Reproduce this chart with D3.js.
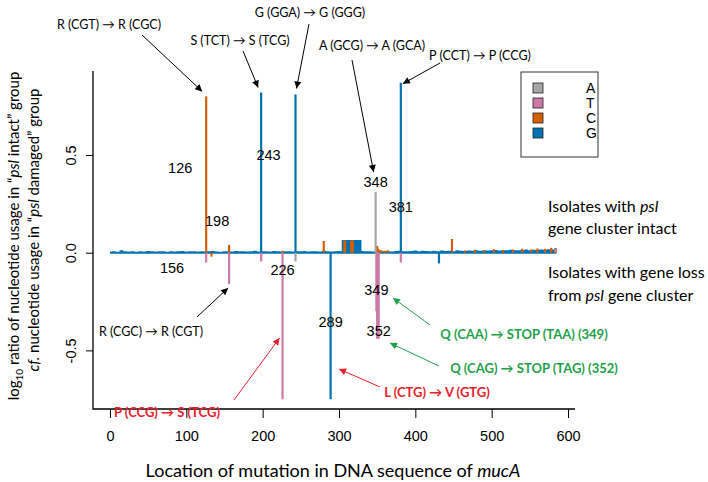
<!DOCTYPE html>
<html>
<head>
<meta charset="utf-8">
<script src="https://cdn.jsdelivr.net/npm/d3@7"></script>
<style>
body { margin: 0; background: #fff; }
</style>
</head>
<body>
<div id="chart"></div>
<script>
// Nucleotides and axis ticks
const nucleotides = ["A", "T", "C", "G"];
const xTicks = [0, 100, 200, 300, 400, 500, 600];
const yTicks = [-0.5, 0, 0.5];

// log10 ratio of usage per position, one pair of arrays per nucleotide
const posA = [243, 348];
const valA = [-0.045, 0.31];

const posT = [126, 156, 198, 226, 349, 350, 351, 352, 381, 584];
const valT = [-0.05, -0.16, -0.045, -0.75, -0.30, -0.44, -0.44, -0.44, -0.05, 0.02];

const posC = [126, 133, 156, 226, 280, 307, 308, 316, 317, 318, 350, 351, 353, 356, 360, 364,
	448, 465, 478, 490, 503, 515, 528, 540, 552, 560, 570, 578, 583];
const valC = [0.80, -0.02, 0.04, 0.01, 0.06, 0.062, 0.062, 0.062, 0.062, 0.062, 0.035, 0.02, 0.015, 0.012, 0.01, 0.012,
	0.07, 0.012, 0.015, 0.012, 0.018, 0.014, 0.016, 0.02, 0.017, 0.022, 0.02, 0.025, 0.02];

const posG = [198, 243, 289, 305, 306, 307, 308, 309, 310, 311, 312, 313, 314, 315, 316,
	317, 318, 319, 320, 321, 322, 323, 324, 325, 326, 327, 328, 381, 431];
const valG = [0.82, 0.81, -0.75, 0.065, 0.065, 0.065, 0.065, 0.065, 0.065, 0.065, 0.065, 0.065, 0.065, 0.065, 0.065,
	0.065, 0.065, 0.065, 0.065, 0.065, 0.065, 0.065, 0.065, 0.065, 0.065, 0.065, 0.065, 0.87, -0.055];

// background G ratios, every 5th position from 0 to 585
const bgValG = [
	0.006, 0.008, 0.005, 0.012, 0.007, 0.006, 0.008, 0.005, 0.007, 0.006, 0.009, 0.007,
	0.006, 0.008, 0.007, 0.005, 0.008, 0.006, 0.007, 0.009, 0.006, 0.008, 0.007, 0.006,
	0.008, 0.006, 0.007, 0.009, 0.006, 0.005, 0.008, 0.007, 0.006, 0.009, 0.007, 0.008,
	0.006, 0.007, 0.010, 0.006, 0.008, 0.007, 0.006, 0.009, 0.007, 0.006, 0.008, 0.007,
	0.006, 0.008, 0.007, 0.009, 0.006, 0.008, 0.007, 0.006, 0.010, 0.008, 0.006, 0.007,
	0.009, 0.008, 0.006, 0.007, 0.008, 0.006, 0.009, 0.007, 0.008, 0.006, 0.007, 0.009,
	0.007, 0.008, 0.006, 0.009, 0.010, 0.008, 0.007, 0.009, 0.011, 0.008, 0.010, 0.009,
	0.007, 0.010, 0.008, 0.011, 0.009, 0.010, 0.008, 0.012, 0.010, 0.009, 0.011, 0.010,
	0.012, 0.010, 0.013, 0.011, 0.012, 0.014, 0.011, 0.013, 0.012, 0.015, 0.013, 0.012,
	0.014, 0.016, 0.013, 0.015, 0.014, 0.017, 0.015, 0.018, 0.016, 0.024
];

// numbered spikes
const spikeLabels = ["126", "198", "243", "348", "381", "156", "226", "289", "349", "352"];

// annotations
const topNotes = ["R (CGT) \u2192 R (CGC)", "S (TCT) \u2192 S (TCG)", "G (GGA) \u2192 G (GGG)",
	"A (GCG) \u2192 A (GCA)", "P (CCT) \u2192 P (CCG)"];
const blackBottomNote = "R (CGC) \u2192 R (CGT)";
const redNotes = ["P (CCG) \u2192 S (TCG)", "L (CTG) \u2192 V (GTG)"];
const greenNotes = ["Q (CAA) \u2192 STOP (TAA) (349)", "Q (CAG) \u2192 STOP (TAG) (352)"];

const width = 708, height = 482;
const colors = {A: "#a6a6a6", T: "#cc79a7", C: "#d55e00", G: "#0072b2"};
const red = "#e8202a", green = "#1fa04a";
const annoFont = "Lato, 'Open Sans', sans-serif";
const numFont = "'Liberation Sans', Arial, sans-serif";

let svg = d3.select("#chart")
	.append("svg")
	.attr("width", width)
	.attr("height", height)
	.style("background", "#fff");

let x = d3.scaleLinear().domain([0, 600]).range([110, 568]);
let y = d3.scaleLinear().domain([-0.8, 0.93]).range([409, 71]);

// arrow heads
let defs = svg.append("defs");
[["blk", "#000"], ["red", red], ["grn", green]].forEach(([id, c]) => {
	defs.append("marker")
		.attr("id", "arrow-" + id)
		.attr("viewBox", "0 0 10 10")
		.attr("refX", 10).attr("refY", 5)
		.attr("markerWidth", 9).attr("markerHeight", 7)
		.attr("markerUnits", "userSpaceOnUse")
		.attr("orient", "auto")
		.append("path")
		.attr("d", "M0,0 L10,5 L0,10 z")
		.attr("fill", c);
});

/* -------------- AXES --------------- */
let xAxis = d3.axisBottom(x).tickValues(xTicks).tickSize(9).tickSizeOuter(0).tickPadding(13);
let xAxisGroup = svg.append("g")
	.attr("class", "axis x-axis")
	.attr("transform", "translate(0," + 409 + ")")
	.call(xAxis);
xAxisGroup.select(".domain").remove();
xAxisGroup.selectAll("text")
	.attr("font-size", "14.5px")
	.attr("font-family", numFont)
	.attr("fill", "#000");

let yAxis = d3.axisLeft(y).tickValues(yTicks).tickSize(7)
	.tickFormat(d => d.toFixed(1));
let yAxisGroup = svg.append("g")
	.attr("class", "axis y-axis")
	.attr("transform", "translate(93,0)")
	.call(yAxis);
yAxisGroup.select(".domain").remove();
yAxisGroup.selectAll("text")
	.attr("transform", "rotate(-90)")
	.attr("x", 0)
	.attr("y", -17)
	.attr("dy", 0)
	.attr("text-anchor", "middle")
	.attr("font-size", "14.5px")
	.attr("font-family", numFont)
	.attr("fill", "#000");

// L shaped frame
svg.append("path")
	.attr("d", "M93," + y.range()[1] + " V409 H575")
	.attr("fill", "none")
	.attr("stroke", "#000")
	.attr("stroke-width", 1.3);

/* -------------- DATA --------------- */
let plot = svg.append("g").attr("class", "plot");

let bgPos = d3.range(0, 590, 5);
let bgArea = d3.area()
	.x((d, i) => x(bgPos[i]))
	.y0(y(-0.005))
	.y1(d => y(d))
	.curve(d3.curveStep);
plot.append("path")
	.datum(bgValG)
	.attr("d", bgArea)
	.attr("fill", colors.G);

function drawSpikes(pos, val, color) {
	plot.append("g")
		.selectAll("line")
		.data(d3.zip(pos, val))
		.join("line")
		.attr("x1", d => x(d[0]))
		.attr("x2", d => x(d[0]))
		.attr("y1", y(0))
		.attr("y2", d => y(d[1]))
		.attr("stroke", color)
		.attr("stroke-width", 2.2);
}
drawSpikes(posG, valG, colors.G);
drawSpikes(posC, valC, colors.C);
drawSpikes(posT, valT, colors.T);
drawSpikes(posA, valA, colors.A);

// spike numbers: centre offset in px from the spike, height in data units
let labelSpots = [
	{pos: 126, dx: -26, v: 0.433}, {pos: 198, dx: -44, v: 0.162}, {pos: 243, dx: -27, v: 0.50},
	{pos: 348, dx: 0, v: 0.36}, {pos: 381, dx: 0, v: 0.233}, {pos: 156, dx: -57, v: -0.078},
	{pos: 226, dx: 0, v: -0.09}, {pos: 289, dx: 0, v: -0.356}, {pos: 349, dx: 0, v: -0.19},
	{pos: 352, dx: 0, v: -0.40}
];
svg.append("g")
	.selectAll("text")
	.data(spikeLabels)
	.join("text")
	.attr("x", (d, i) => x(labelSpots[i].pos) + labelSpots[i].dx)
	.attr("y", (d, i) => y(labelSpots[i].v) + 5)
	.attr("text-anchor", "middle")
	.attr("font-family", numFont)
	.attr("font-size", "14.5px")
	.text(d => d);

/* -------------- LEGEND --------------- */
let legend = svg.append("g").attr("class", "legend");
legend.append("rect")
	.attr("x", 521).attr("y", 72)
	.attr("width", 77).attr("height", 85)
	.attr("fill", "#fff")
	.attr("stroke", "#333")
	.attr("stroke-width", 1);
nucleotides.forEach((n, i) => {
	legend.append("rect")
		.attr("x", 533).attr("y", 83 + i * 15)
		.attr("width", 10).attr("height", 10)
		.attr("fill", colors[n])
		.attr("stroke", "#222")
		.attr("stroke-width", 0.8);
	legend.append("text")
		.attr("x", 586).attr("y", 93 + i * 15)
		.attr("font-family", numFont)
		.attr("font-size", "14px")
		.text(n);
});

/* -------------- ANNOTATIONS --------------- */
function note(txt, cx, cy, color, bold) {
	svg.append("text")
		.attr("x", cx).attr("y", cy + 4.5)
		.attr("text-anchor", "middle")
		.attr("font-family", annoFont)
		.attr("font-size", bold ? "13px" : "12.5px")
		.attr("font-weight", bold ? "bold" : "normal")
		.attr("fill", color)
		.text(txt);
}
function arrow(x1, y1, x2, y2, id, color) {
	svg.append("line")
		.attr("x1", x1).attr("y1", y1)
		.attr("x2", x2).attr("y2", y2)
		.attr("stroke", color)
		.attr("stroke-width", 1)
		.attr("marker-end", "url(#arrow-" + id + ")");
}

note(topNotes[0], 109, 24, "#000");
arrow(142, 35, x(126) - 4, y(0.80) - 5, "blk", "#000");
note(topNotes[1], 240, 40, "#000");
arrow(243, 51, x(198) - 3, y(0.82) - 5, "blk", "#000");
note(topNotes[2], 310, 12, "#000");
arrow(309, 24, x(243) + 1, y(0.81) - 6, "blk", "#000");
note(topNotes[3], 372, 45, "#000");
arrow(352, 60, x(348) - 2, 172, "blk", "#000");
note(topNotes[4], 480, 55, "#000");
arrow(440, 63, x(381) + 2, y(0.87) + 1, "blk", "#000");

note(blackBottomNote, 151, 331, "#000");
arrow(197, 317, x(156) - 1, y(-0.16) + 4, "blk", "#000");

note(redNotes[0], 167, 412, red, true);
arrow(234, 400, x(226) - 3, 338, "red", red);
note(redNotes[1], 437, 392, red, true);
arrow(380, 387, 339, 369, "red", red);

note(greenNotes[0], 524, 334, green, true);
arrow(430, 325, 393, 298, "grn", green);
note(greenNotes[1], 534, 368, green, true);
arrow(439, 366, 390, 343, "grn", green);

// group descriptions on the right
let sideText = svg.append("g")
	.attr("font-family", annoFont)
	.attr("font-size", "16px");
let t1 = sideText.append("text").attr("x", 548).attr("y", 212);
t1.append("tspan").text("Isolates with ");
t1.append("tspan").attr("font-style", "italic").text("psl");
sideText.append("text").attr("x", 548).attr("y", 234).text("gene cluster intact");
sideText.append("text").attr("x", 548).attr("y", 278).text("Isolates with gene loss");
let t4 = sideText.append("text").attr("x", 548).attr("y", 301);
t4.append("tspan").text("from ");
t4.append("tspan").attr("font-style", "italic").text("psl");
t4.append("tspan").text(" gene cluster");

/* -------------- AXIS TITLES --------------- */
let xTitle = svg.append("text")
	.attr("x", 333).attr("y", 477)
	.attr("text-anchor", "middle")
	.attr("font-family", annoFont)
	.attr("font-size", "18px");
xTitle.append("tspan").text("Location of mutation in DNA sequence of ");
xTitle.append("tspan").attr("font-style", "italic").text("mucA");

let yTitle1 = svg.append("text")
	.attr("transform", "translate(19,236) rotate(-90)")
	.attr("text-anchor", "middle")
	.attr("font-family", annoFont)
	.attr("font-size", "15px");
yTitle1.append("tspan").text("log");
yTitle1.append("tspan").attr("font-size", "10px").attr("dy", 4).text("10");
yTitle1.append("tspan").attr("dy", -4).text(" ratio of nucleotide usage in \u201C");
yTitle1.append("tspan").attr("font-style", "italic").text("psl");
yTitle1.append("tspan").text(" intact\u201D group");

let yTitle2 = svg.append("text")
	.attr("transform", "translate(39,230) rotate(-90)")
	.attr("text-anchor", "middle")
	.attr("font-family", annoFont)
	.attr("font-size", "15px");
yTitle2.append("tspan").attr("font-style", "italic").text("cf.");
yTitle2.append("tspan").text(" nucleotide usage in \u201C");
yTitle2.append("tspan").attr("font-style", "italic").text("psl");
yTitle2.append("tspan").text(" damaged\u201D group");
</script>
</body>
</html>
